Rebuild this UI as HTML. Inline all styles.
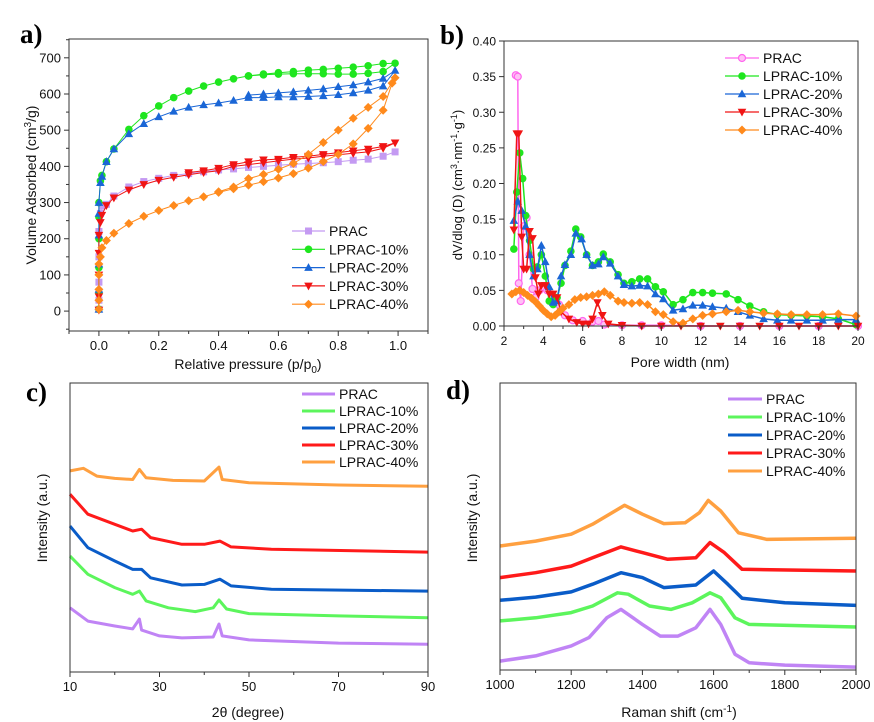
<!DOCTYPE html>
<html><head><meta charset="utf-8"><style>
html,body{margin:0;padding:0;background:#fff}
svg{display:block;font-family:"Liberation Sans",sans-serif}
</style></head><body>
<svg id="fig" width="874" height="722" viewBox="0 0 874 722"></svg>
<script>
// ---------- Panel a data (isotherms) ----------
const aPRAC_x=[0,0,0,0,0,0.005,0.01,0.025,0.05,0.1,0.15,0.2,0.25,0.3,0.35,0.4,0.45,0.5,0.55,0.6,0.65,0.7,0.75,0.8,0.85,0.9,0.95,0.99];
const aPRAC_y=[5,30,80,150,220,270,290,295,318,343,358,367,375,380,385,390,393,397,400,403,406,408,410,413,417,420,428,440];
const a10_x=[0,0,0,0,0,0,0.005,0.01,0.025,0.05,0.1,0.15,0.2,0.25,0.3,0.35,0.4,0.45,0.5,0.55,0.6,0.65,0.7,0.75,0.8,0.85,0.9,0.95,0.99,0.95,0.9,0.85,0.8,0.75,0.7,0.65,0.6,0.55,0.5];
const a10_y=[5,50,120,200,260,300,360,375,413,448,502,540,567,590,608,622,633,642,650,653,655,656,656,656,655,655,657,662,685,684,678,674,671,668,666,662,659,655,650];
const a20_x=[0,0,0,0,0,0,0.005,0.01,0.025,0.05,0.1,0.15,0.2,0.25,0.3,0.35,0.4,0.45,0.5,0.55,0.6,0.65,0.7,0.75,0.8,0.85,0.9,0.95,0.99,0.95,0.9,0.85,0.8,0.75,0.7,0.65,0.6,0.55,0.5];
const a20_y=[5,60,130,210,270,300,355,372,413,448,490,518,537,552,563,570,575,582,590,590,592,592,593,595,598,603,610,622,665,643,633,625,620,614,610,606,603,600,597];
const a30_x=[0,0,0,0,0,0.005,0.01,0.025,0.05,0.1,0.15,0.2,0.25,0.3,0.35,0.4,0.45,0.5,0.55,0.6,0.65,0.7,0.75,0.8,0.85,0.9,0.95,0.99,0.95,0.9,0.85,0.8,0.75,0.7,0.65,0.6,0.55,0.5,0.45,0.4,0.35,0.3];
const a30_y=[3,40,100,160,210,245,265,292,313,335,350,362,370,377,383,388,400,405,410,415,420,423,428,432,436,440,450,465,455,448,443,438,433,428,425,420,418,413,405,395,388,383];
const a40_x=[0,0,0,0,0,0.005,0.01,0.025,0.05,0.1,0.15,0.2,0.25,0.3,0.35,0.4,0.45,0.5,0.55,0.6,0.65,0.7,0.75,0.8,0.85,0.9,0.95,0.98,0.99,0.95,0.9,0.85,0.8,0.75,0.7,0.65,0.6,0.55,0.5,0.45,0.4];
const a40_y=[5,30,60,100,130,150,175,195,215,242,262,278,292,305,316,328,338,348,358,368,380,395,413,433,462,505,555,630,645,593,563,533,500,466,433,408,392,378,366,343,330];
// ---------- Panel b data (PSD) ----------
const bPRAC_x=[2.6,2.7,2.75,2.85,3.0,3.15,3.3,3.45,3.6,3.8,4.0,4.2,4.5,4.8,5.1,5.5,6.0,6.5,6.8,7.1,8,9,10,12,14,16,18,20];
const bPRAC_y=[0.352,0.35,0.06,0.035,0.14,0.152,0.1,0.052,0.04,0.05,0.055,0.05,0.04,0.03,0.015,0.008,0.007,0.006,0.007,0.002,0.001,0.001,0.001,0,0,0,0,0];
const b10_x=[2.5,2.65,2.8,2.95,3.1,3.3,3.5,3.7,3.9,4.1,4.3,4.5,4.7,4.9,5.1,5.4,5.65,5.9,6.2,6.5,6.8,7.05,7.4,7.8,8.1,8.5,8.9,9.3,9.7,10.1,10.6,11.1,11.6,12.1,12.6,13.3,13.9,14.5,15.2,15.9,16.6,17.4,18.2,19.0,19.9];
const b10_y=[0.108,0.188,0.243,0.207,0.155,0.12,0.08,0.083,0.1,0.07,0.035,0.03,0.04,0.06,0.085,0.105,0.136,0.125,0.1,0.085,0.09,0.101,0.09,0.072,0.06,0.062,0.066,0.066,0.055,0.048,0.03,0.037,0.047,0.047,0.046,0.045,0.037,0.028,0.02,0.016,0.015,0.014,0.013,0.01,0.002];
const b20_x=[2.5,2.7,2.9,3.1,3.3,3.5,3.7,3.9,4.1,4.3,4.5,4.7,4.9,5.1,5.4,5.65,5.95,6.2,6.5,6.8,7.05,7.4,7.8,8.1,8.5,8.9,9.3,9.7,10.1,10.6,11.1,11.6,12.1,12.6,13.3,13.9,14.5,15.2,15.9,16.6,17.4,18.2,19.0,19.9];
const b20_y=[0.148,0.175,0.162,0.14,0.1,0.07,0.08,0.113,0.09,0.055,0.033,0.035,0.07,0.086,0.1,0.13,0.122,0.1,0.085,0.087,0.097,0.088,0.07,0.058,0.056,0.057,0.056,0.045,0.038,0.022,0.024,0.029,0.029,0.027,0.025,0.02,0.015,0.01,0.008,0.008,0.008,0.008,0.009,0.009];
const b30_x=[2.5,2.65,2.75,2.9,3.0,3.15,3.3,3.45,3.6,3.75,3.9,4.1,4.3,4.5,4.7,4.9,5.3,5.7,6.0,6.3,6.5,6.75,7.0,7.3,8,9,10,11,12,13,14,15,16,17,18,19,20];
const b30_y=[0.135,0.27,0.27,0.125,0.08,0.08,0.133,0.123,0.068,0.045,0.057,0.057,0.045,0.045,0.04,0.02,0.01,0.005,0.003,0.003,0.01,0.033,0.015,0.003,0.001,0,0,0,0,0,0,0,0,0,0,0,0];
const b40_x=[2.4,2.6,2.8,3,3.2,3.4,3.6,3.8,4.0,4.2,4.4,4.6,4.8,5.0,5.3,5.6,5.9,6.2,6.5,6.8,7.1,7.4,7.8,8.1,8.5,8.9,9.3,9.7,10.1,10.6,11.1,11.6,12.1,12.6,13.3,13.9,14.5,15.2,15.9,16.6,17.4,18.2,19.0,19.9];
const b40_y=[0.045,0.048,0.05,0.047,0.043,0.039,0.034,0.028,0.022,0.017,0.013,0.015,0.02,0.025,0.03,0.037,0.04,0.041,0.043,0.045,0.048,0.043,0.035,0.033,0.032,0.033,0.03,0.02,0.016,0.006,0.004,0.01,0.015,0.017,0.02,0.022,0.02,0.018,0.017,0.016,0.016,0.016,0.017,0.014];
// ---------- Panel c data (XRD, a.u.) ----------
const cPRAC_x=[10,14,20,24,25.5,26,30,35,42,43.3,44,50,70,90];
const cPRAC_y=[22.2,17.6,15.9,14.9,18.3,14.5,12.5,11.8,12.1,16.6,12.5,11.1,10.0,9.6];
const c10_x=[10,14,20,24,25.5,27,32,38,42,43.3,45,50,70,90];
const c10_y=[40.1,33.8,29.2,26.9,28.0,24.6,22.2,20.9,22.2,24.9,21.8,20.2,19.4,18.8];
const c20_x=[10,14,20,24,26,28,35,40,43.5,46,55,90];
const c20_y=[50.5,43.0,38.4,35.5,35.5,32.6,30.1,30.3,32.1,29.8,28.6,28.0];
const c30_x=[10,14,20,24,26,28,35,40,43.5,46,55,90];
const c30_y=[61.5,54.6,51.1,48.8,49.4,46.5,44.2,44.2,45.3,43.3,42.5,41.5];
const c40_x=[10,13,16,20,24,25.5,27,33,40,43.3,44,50,70,90];
const c40_y=[69.6,70.5,67.8,67.0,66.6,70.1,67.2,66.3,66.1,70.9,66.6,65.5,64.7,64.3];
// ---------- Panel d data (Raman, a.u.) ----------
const dPRAC_x=[1000,1100,1200,1250,1300,1340,1400,1450,1500,1550,1590,1620,1660,1700,1800,2000];
const dPRAC_y=[3.1,4.9,8.4,11.3,18.2,21.1,15.9,11.8,11.8,14.7,21.1,15.9,5.5,2.5,1.7,1.0];
const d10_x=[1000,1100,1200,1260,1330,1360,1420,1480,1540,1590,1620,1660,1700,2000];
const d10_y=[17.1,18.2,20.0,22.3,26.9,26.4,22.3,21.1,23.4,26.9,25.2,18.2,15.9,15.0];
const d20_x=[1000,1100,1200,1260,1340,1400,1460,1520,1550,1600,1640,1680,1800,2000];
const d20_y=[24.3,25.4,27.2,29.9,33.9,32.2,28.7,29.3,29.6,34.5,29.9,25.0,23.4,22.5];
const d30_x=[1000,1100,1200,1260,1340,1400,1470,1550,1590,1630,1680,2000];
const d30_y=[32.2,33.9,36.2,39.1,42.9,40.9,38.6,39.1,44.4,40.9,35.1,34.5];
const d40_x=[1000,1100,1200,1260,1350,1400,1460,1520,1560,1585,1620,1670,1750,2000];
const d40_y=[43.2,44.9,47.3,50.8,57.4,54.3,51.0,51.3,54.8,59.1,55.4,47.8,45.5,45.9];
const names=["PRAC","LPRAC-10%","LPRAC-20%","LPRAC-30%","LPRAC-40%"];

const NS="http://www.w3.org/2000/svg";
const fig=document.getElementById('fig');
function mk(tag,attrs,parent,text){const e=document.createElementNS(NS,tag);for(const k in attrs)e.setAttribute(k,attrs[k]);if(text!==undefined)e.textContent=text;(parent||fig).appendChild(e);return e;}
function scale(d0,d1,r0,r1){return v=>r0+(v-d0)/(d1-d0)*(r1-r0);}

function marker(g,type,x,y,c){
  let e;
  if(type==='sq'){e=mk('rect',{x:x-3.5,y:y-3.5,width:7,height:7,fill:c},g);}
  else if(type==='ci'){e=mk('circle',{cx:x,cy:y,r:3.8,fill:c},g);}
  else if(type==='oc'){e=mk('circle',{cx:x,cy:y,r:3.5,fill:'#ffc0f5',stroke:c,'stroke-width':1.2},g);}
  else if(type==='tu'){e=mk('polygon',{points:`${x},${y-4.5} ${x-4.3},${y+3.3} ${x+4.3},${y+3.3}`,fill:c},g);}
  else if(type==='td'){e=mk('polygon',{points:`${x},${y+4.5} ${x-4.3},${y-3.3} ${x+4.3},${y-3.3}`,fill:c},g);}
  else if(type==='di'){e=mk('polygon',{points:`${x},${y-4.5} ${x+4.5},${y} ${x},${y+4.5} ${x-4.5},${y}`,fill:c},g);}
  
  
}

function panel(p){
  const g=mk('g',{});
  
  
  const sx=scale(p.xd[0],p.xd[1],p.L,p.R), sy=scale(p.yd[0],p.yd[1],p.B,p.T);
  p.series.forEach((s,i)=>{
    const sg=mk('g',{},g);
    
    
    const pts=s.x.map((v,j)=>sx(v).toFixed(1)+','+sy(s.y[j]).toFixed(1)).join(' ');
    const pl=mk('polyline',{points:pts,fill:'none',stroke:s.c,'stroke-width':s.w||1,'stroke-linejoin':'round'},sg);
    
    
    if(s.m) s.x.forEach((v,j)=>marker(sg,s.m,sx(v),sy(s.y[j]),s.c));
  });
  const fr=mk('rect',{x:p.L,y:p.T,width:p.R-p.L,height:p.B-p.T,fill:'none',stroke:'#333','stroke-width':1},g);
  
  
  p.xminor.forEach(v=>{mk('line',{x1:sx(v),x2:sx(v),y1:p.B,y2:p.B+3,stroke:'#333'},g);});
  p.xticks.forEach((v,i)=>{
    mk('line',{x1:sx(v),x2:sx(v),y1:p.B,y2:p.B+5,stroke:'#333'},g);
    const t=mk('text',{x:sx(v),y:p.B+19,'text-anchor':'middle','font-size':p.tf||13,fill:'#111'},g,p.xlab[i]);
    
    
  });
  if(p.yticks){
    p.yminor.forEach(v=>{mk('line',{x1:p.L-3,x2:p.L,y1:sy(v),y2:sy(v),stroke:'#333'},g);});
    p.yticks.forEach((v,i)=>{
      mk('line',{x1:p.L-5,x2:p.L,y1:sy(v),y2:sy(v),stroke:'#333'},g);
      const t=mk('text',{x:p.L-8,y:sy(v)+4.5,'text-anchor':'end','font-size':p.tf||13,fill:'#111'},g,p.ylab[i]);
      
      
    });
  }
  const lg=mk('g',{},g);
  
  
  p.series.forEach((s,i)=>{
    const y=p.leg.y+i*p.leg.dy;
    const ent=mk('g',{},lg);
    
    
    mk('line',{x1:p.leg.x1,x2:p.leg.x2,y1:y,y2:y,stroke:s.c,'stroke-width':s.m?1.2:3},ent);
    if(s.m) marker(ent,s.m,(p.leg.x1+p.leg.x2)/2,y,s.c);
    mk('text',{x:p.leg.x2+4,y:y+5,'font-size':14,fill:'#111'},ent,names[i]);
  });
  return g;
}

panel({name:'panel-a-isotherm',L:69,R:428,T:39,B:331,xd:[-0.1,1.1],yd:[-55,752],
  xticks:[0,0.2,0.4,0.6,0.8,1.0],xlab:['0.0','0.2','0.4','0.6','0.8','1.0'],xminor:[-0.1,0.1,0.3,0.5,0.7,0.9,1.1],
  yticks:[0,100,200,300,400,500,600,700],ylab:['0','100','200','300','400','500','600','700'],yminor:[-50,50,150,250,350,450,550,650,750],
  leg:{x1:292,x2:325,y:231,dy:18.3},
  series:[{x:aPRAC_x,y:aPRAC_y,c:'#c49af2',m:'sq'},{x:a10_x,y:a10_y,c:'#1ee61e',m:'ci'},{x:a20_x,y:a20_y,c:'#1a66d6',m:'tu'},{x:a30_x,y:a30_y,c:'#f01414',m:'td'},{x:a40_x,y:a40_y,c:'#ff8a1c',m:'di'}]});

panel({name:'panel-b-pore-size',L:504,R:858,T:41,B:326,xd:[2,20],yd:[0,0.4],tf:12,
  xticks:[2,4,6,8,10,12,14,16,18,20],xlab:['2','4','6','8','10','12','14','16','18','20'],xminor:[3,5,7,9,11,13,15,17,19],
  yticks:[0,0.05,0.1,0.15,0.2,0.25,0.3,0.35,0.4],ylab:['0.00','0.05','0.10','0.15','0.20','0.25','0.30','0.35','0.40'],yminor:[],
  leg:{x1:725,x2:759,y:58,dy:18},
  series:[{x:bPRAC_x,y:bPRAC_y,c:'#ff66ee',m:'oc',w:1.5},{x:b10_x,y:b10_y,c:'#1ee61e',m:'ci',w:1.5},{x:b20_x,y:b20_y,c:'#1a66d6',m:'tu',w:1.5},{x:b30_x,y:b30_y,c:'#f01414',m:'td',w:1.5},{x:b40_x,y:b40_y,c:'#ff8a1c',m:'di',w:1.5}]});

panel({name:'panel-c-xrd',L:70,R:428,T:383,B:672,xd:[10,90],yd:[0,100],
  xticks:[10,30,50,70,90],xlab:['10','30','50','70','90'],xminor:[20,40,60,80],
  leg:{x1:302,x2:335,y:394,dy:17},
  series:[{x:cPRAC_x,y:cPRAC_y,c:'#c084f5',w:3},{x:c10_x,y:c10_y,c:'#5cf55c',w:3},{x:c20_x,y:c20_y,c:'#0a5cc8',w:3},{x:c30_x,y:c30_y,c:'#ff1a1a',w:3},{x:c40_x,y:c40_y,c:'#ffa040',w:3}]});

panel({name:'panel-d-raman',L:500,R:856,T:383,B:670,xd:[1000,2000],yd:[0,100],
  xticks:[1000,1200,1400,1600,1800,2000],xlab:['1000','1200','1400','1600','1800','2000'],xminor:[1100,1300,1500,1700,1900],
  leg:{x1:728,x2:762,y:399,dy:18},
  series:[{x:dPRAC_x,y:dPRAC_y,c:'#c084f5',w:3.5},{x:d10_x,y:d10_y,c:'#5cf55c',w:3.5},{x:d20_x,y:d20_y,c:'#0a5cc8',w:3.5},{x:d30_x,y:d30_y,c:'#ff1a1a',w:3.5},{x:d40_x,y:d40_y,c:'#ffa040',w:3.5}]});
</script>
<svg width="874" height="722" viewBox="0 0 874 722" style="position:absolute;left:0;top:0">
<g font-family="Liberation Serif, serif" font-weight="bold" font-size="27" fill="#000">
<text x="20" y="43">a)</text>
<text x="440" y="44">b)</text>
<text x="26" y="401">c)</text>
<text x="446" y="399">d)</text>
</g>
<g font-family="Liberation Sans, sans-serif" font-size="14" fill="#111">
<text x="248" y="369" text-anchor="middle">Relative pressure (p/p<tspan font-size="10" dy="4">0</tspan><tspan dy="-4">)</tspan></text>
<text transform="translate(36,185) rotate(-90)" text-anchor="middle">Volume Adsorbed (cm<tspan font-size="10" dy="-5">3</tspan><tspan dy="5">/g)</tspan></text>
<text x="680" y="367" text-anchor="middle">Pore width (nm)</text>
<text transform="translate(462,185) rotate(-90)" text-anchor="middle" font-size="13">dV/dlog (D) (cm<tspan font-size="9" dy="-5">3</tspan><tspan dy="5">·nm</tspan><tspan font-size="9" dy="-5">-1</tspan><tspan dy="5">·g</tspan><tspan font-size="9" dy="-5">-1</tspan><tspan dy="5">)</tspan></text>
<text x="248" y="717" text-anchor="middle">2θ (degree)</text>
<text transform="translate(47,518) rotate(-90)" text-anchor="middle">Intensity (a.u.)</text>
<text x="679" y="717" text-anchor="middle">Raman shift (cm<tspan font-size="10" dy="-5">-1</tspan><tspan dy="5">)</tspan></text>
<text transform="translate(477,518) rotate(-90)" text-anchor="middle">Intensity (a.u.)</text>
</g>
</svg>
</body></html>
